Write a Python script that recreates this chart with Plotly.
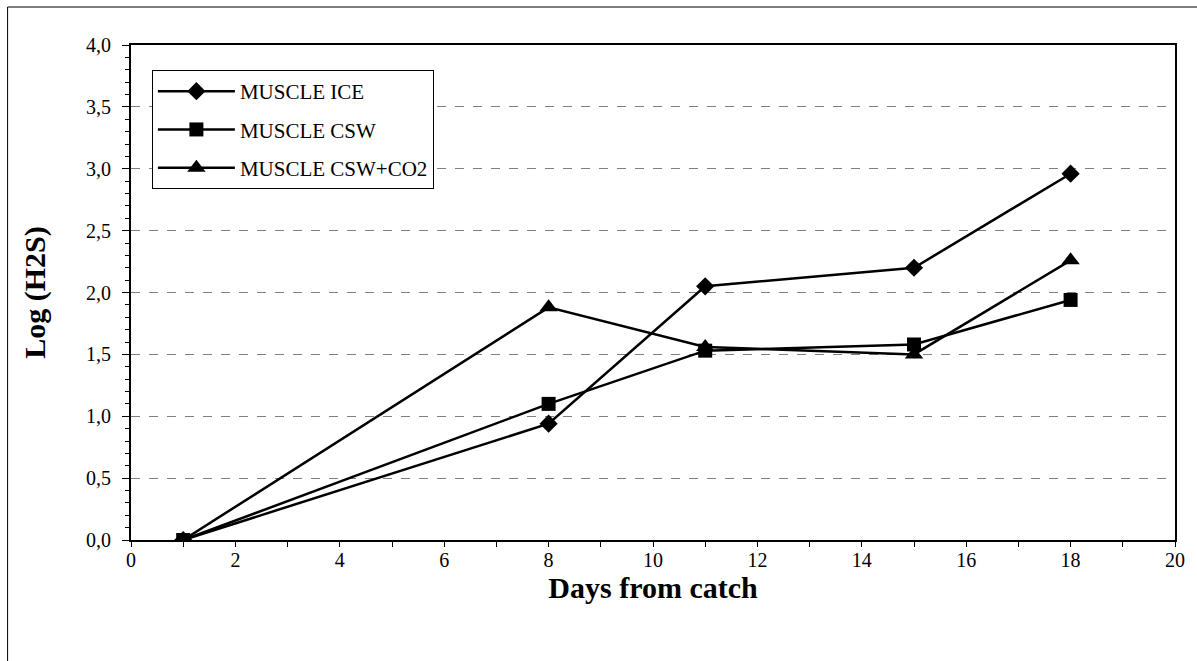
import plotly.graph_objects as go

days = [1, 8, 11, 15, 18]
muscle_ice = [0.0, 0.94, 2.05, 2.20, 2.96]
muscle_csw = [0.0, 1.10, 1.53, 1.58, 1.94]
muscle_csw_co2 = [0.0, 1.88, 1.56, 1.50, 2.26]

series = [
    ("MUSCLE ICE", muscle_ice, "diamond", 14),
    ("MUSCLE CSW", muscle_csw, "square", 14),
    ("MUSCLE CSW+CO2", muscle_csw_co2, "triangle-up", 16),
]

W, H = 1197, 661
ml, mr, mt, mb = 131, 17, 45, 121

fig = go.Figure()
for i, (name, vals, sym, sz) in enumerate(series):
    fig.add_trace(go.Scatter(
        x=days, y=vals, name=name, mode="lines+markers", legendgroup=f"g{i}",
        line=dict(color="black", width=2.5),
        marker=dict(symbol=sym, size=sz, color="black"),
    ))

font_family = "Liberation Serif, Times New Roman, serif"

fig.update_layout(
    width=W, height=H,
    margin=dict(l=ml, r=mr, t=mt, b=mb),
    paper_bgcolor="white", plot_bgcolor="white",
    separators=", ",
    font=dict(family=font_family, size=20, color="black"),
    showlegend=True,
    legend=dict(
        x=(152 - ml) / (W - ml - mr), y=(H - mb - 70) / (H - mt - mb),
        xanchor="left", yanchor="top",
        bordercolor="black", borderwidth=1, bgcolor="white",
        font=dict(family=font_family, size=21, color="black"),
        tracegroupgap=8, itemwidth=77,
    ),
    xaxis=dict(
        range=[0, 20], dtick=2, tick0=0,
        showline=True, linecolor="black", linewidth=2, mirror=True,
        ticks="outside", ticklen=5, tickcolor="black", tickwidth=1,
        ticklabelstandoff=-4,
        minor=dict(dtick=1, ticks="outside", ticklen=5, tickcolor="black", tickwidth=1),
        showgrid=False, zeroline=False,
        title=dict(text="<b>Days from catch</b>", font=dict(size=30, family=font_family), standoff=0),
        tickfont=dict(size=20, family=font_family),
    ),
    yaxis=dict(
        range=[0, 4], dtick=0.5, tick0=0, tickformat=".1f",
        showline=True, linecolor="black", linewidth=2, mirror=True,
        ticks="outside", ticklen=7, tickcolor="black", tickwidth=1,
        ticklabelstandoff=7,
        minor=dict(dtick=0.1, ticks="outside", ticklen=4, tickcolor="black", tickwidth=1, showgrid=False),
        showgrid=True, gridcolor="#808080", gridwidth=1, griddash="dash",
        zeroline=False,
        title=dict(text="<b>Log (H2S)</b>", font=dict(size=30, family=font_family), standoff=32),
        tickfont=dict(size=20, family=font_family),
    ),
)

# outer chart frame (top and left edges visible in the reference)
pw = W - ml - mr
ph = H - mt - mb
fx = (7 - ml) / pw
fy = (H - mb - 7) / ph
fig.add_shape(type="line", xref="paper", yref="paper", x0=fx, x1=(W - ml) / pw + 0.01, y0=fy, y1=fy,
              line=dict(color="black", width=1))
fig.add_shape(type="line", xref="paper", yref="paper", x0=fx, x1=fx, y0=fy, y1=-mb / ph - 0.01,
              line=dict(color="black", width=1))

fig.write_html("out.html", config={"displayModeBar": False},
               post_script="document.body.style.margin='0';document.body.style.padding='0';")
